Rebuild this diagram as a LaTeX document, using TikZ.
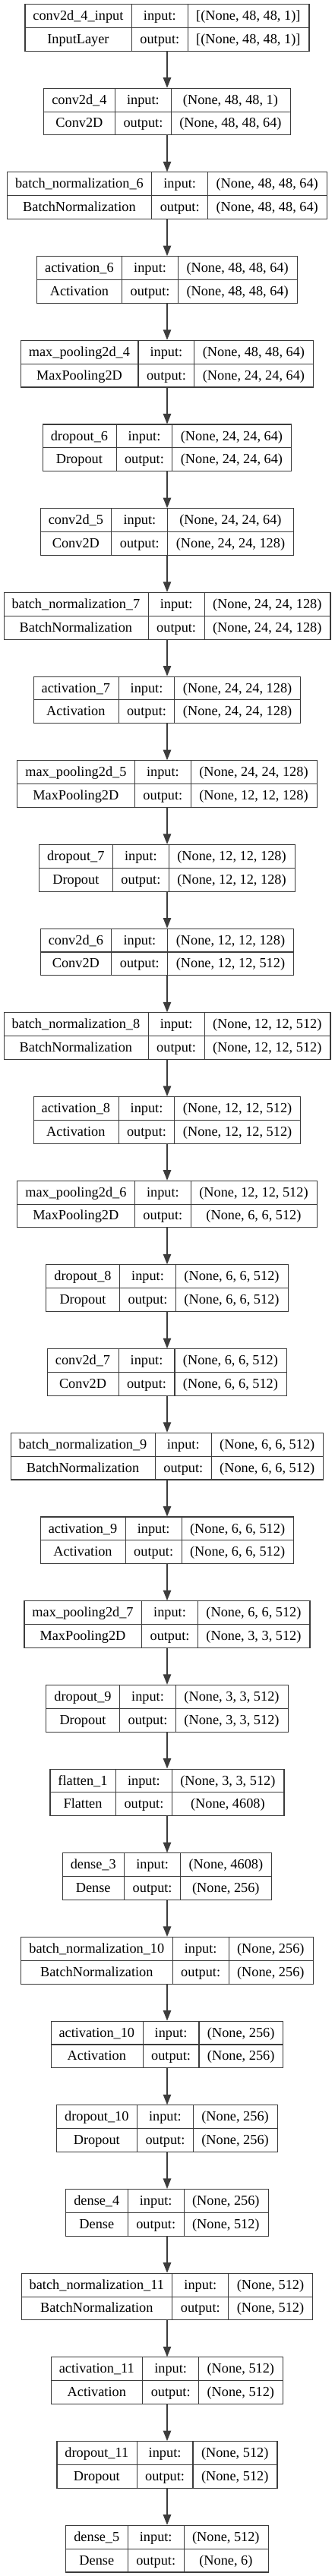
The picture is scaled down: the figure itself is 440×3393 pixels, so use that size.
\documentclass[tikz,border=0pt]{standalone}
\usepackage{fontspec}
\setmainfont{Liberation Serif}
\usetikzlibrary{arrows.meta}
\newlength\kwA \newlength\kwB \newlength\kwC \newlength\ktmp
\newcommand\kfont{\fontsize{18.3pt}{20pt}\selectfont}
\definecolor{kgray}{HTML}{3C3C3C}
\tikzset{
  kframe/.style={draw=kgray, line width=1.1pt, inner sep=0pt, minimum height=61.7pt, rectangle},
  kline/.style={draw=kgray, line width=1.1pt},
  ktext/.style={inner sep=0pt, anchor=base, font=\kfont, text=black},
  karrow/.style={draw=kgray, line width=1.1pt, -{Triangle[length=13.5pt,width=10.5pt]}}
}
\newcommand\kmeasure[4]{%
  \begingroup\normalfont\kfont
  \settowidth\ktmp{#1}\global\kwA=\ktmp
  \settowidth\ktmp{#2}\ifdim\ktmp>\kwA \global\kwA=\ktmp\fi
  \settowidth\ktmp{#3}\global\kwC=\ktmp
  \settowidth\ktmp{#4}\ifdim\ktmp>\kwC \global\kwC=\ktmp\fi
  \settowidth\ktmp{output:}\global\kwB=\ktmp
  \endgroup}
\newcommand\kbox[5]{%
  \pgfinterruptpicture\kmeasure{#2}{#3}{#4}{#5}\endpgfinterruptpicture
  \global\advance\kwA by 22pt \global\advance\kwB by 22pt \global\advance\kwC by 22pt
  \pgfmathsetmacro\kW{\kwA+\kwB+\kwC}%
  \pgfmathsetmacro\kTop{5+#1*110.69}%
  \node[kframe, minimum width=\kW pt, anchor=north] (L#1) at (220,\kTop) {};
  \draw[kline] ([xshift=\kwA]L#1.north west) -- ([xshift=\kwA]L#1.south west);
  \draw[kline] ([xshift=\kwA+\kwB]L#1.north west) -- ([xshift=\kwA+\kwB]L#1.south west);
  \draw[kline] (L#1.west) -- (L#1.east);
  \path ([xshift=0.5*\kwA, yshift=-21.6pt]L#1.north west) node[ktext] (L#1n) {#2};
  \path ([xshift=0.5*\kwA, yshift=-52.3pt]L#1.north west) node[ktext] (L#1c) {#3};
  \path ([xshift=\kwA+0.5*\kwB, yshift=-21.6pt]L#1.north west) node[ktext] (L#1i) {input:};
  \path ([xshift=\kwA+0.5*\kwB, yshift=-52.3pt]L#1.north west) node[ktext] (L#1o) {output:};
  \path ([xshift=\kwA+\kwB+0.5*\kwC, yshift=-21.6pt]L#1.north west) node[ktext] (L#1s) {#4};
  \path ([xshift=\kwA+\kwB+0.5*\kwC, yshift=-52.3pt]L#1.north west) node[ktext] (L#1t) {#5};
  \ifnum#1>0
    \pgfmathtruncatemacro\kPrev{#1-1}%
    \draw[karrow] (L\kPrev.south) -- (L#1.north);
  \fi
}
\begin{document}
\begin{tikzpicture}[x=1pt,y=-1pt]
\useasboundingbox (0,0) rectangle (440,3393);
\fill[white] (0,0) rectangle (440,3393);
\kbox{0}{conv2d\_4\_input}{InputLayer}{[(None, 48, 48, 1)]}{[(None, 48, 48, 1)]}
\kbox{1}{conv2d\_4}{Conv2D}{(None, 48, 48, 1)}{(None, 48, 48, 64)}
\kbox{2}{batch\_normalization\_6}{BatchNormalization}{(None, 48, 48, 64)}{(None, 48, 48, 64)}
\kbox{3}{activation\_6}{Activation}{(None, 48, 48, 64)}{(None, 48, 48, 64)}
\kbox{4}{max\_pooling2d\_4}{MaxPooling2D}{(None, 48, 48, 64)}{(None, 24, 24, 64)}
\kbox{5}{dropout\_6}{Dropout}{(None, 24, 24, 64)}{(None, 24, 24, 64)}
\kbox{6}{conv2d\_5}{Conv2D}{(None, 24, 24, 64)}{(None, 24, 24, 128)}
\kbox{7}{batch\_normalization\_7}{BatchNormalization}{(None, 24, 24, 128)}{(None, 24, 24, 128)}
\kbox{8}{activation\_7}{Activation}{(None, 24, 24, 128)}{(None, 24, 24, 128)}
\kbox{9}{max\_pooling2d\_5}{MaxPooling2D}{(None, 24, 24, 128)}{(None, 12, 12, 128)}
\kbox{10}{dropout\_7}{Dropout}{(None, 12, 12, 128)}{(None, 12, 12, 128)}
\kbox{11}{conv2d\_6}{Conv2D}{(None, 12, 12, 128)}{(None, 12, 12, 512)}
\kbox{12}{batch\_normalization\_8}{BatchNormalization}{(None, 12, 12, 512)}{(None, 12, 12, 512)}
\kbox{13}{activation\_8}{Activation}{(None, 12, 12, 512)}{(None, 12, 12, 512)}
\kbox{14}{max\_pooling2d\_6}{MaxPooling2D}{(None, 12, 12, 512)}{(None, 6, 6, 512)}
\kbox{15}{dropout\_8}{Dropout}{(None, 6, 6, 512)}{(None, 6, 6, 512)}
\kbox{16}{conv2d\_7}{Conv2D}{(None, 6, 6, 512)}{(None, 6, 6, 512)}
\kbox{17}{batch\_normalization\_9}{BatchNormalization}{(None, 6, 6, 512)}{(None, 6, 6, 512)}
\kbox{18}{activation\_9}{Activation}{(None, 6, 6, 512)}{(None, 6, 6, 512)}
\kbox{19}{max\_pooling2d\_7}{MaxPooling2D}{(None, 6, 6, 512)}{(None, 3, 3, 512)}
\kbox{20}{dropout\_9}{Dropout}{(None, 3, 3, 512)}{(None, 3, 3, 512)}
\kbox{21}{flatten\_1}{Flatten}{(None, 3, 3, 512)}{(None, 4608)}
\kbox{22}{dense\_3}{Dense}{(None, 4608)}{(None, 256)}
\kbox{23}{batch\_normalization\_10}{BatchNormalization}{(None, 256)}{(None, 256)}
\kbox{24}{activation\_10}{Activation}{(None, 256)}{(None, 256)}
\kbox{25}{dropout\_10}{Dropout}{(None, 256)}{(None, 256)}
\kbox{26}{dense\_4}{Dense}{(None, 256)}{(None, 512)}
\kbox{27}{batch\_normalization\_11}{BatchNormalization}{(None, 512)}{(None, 512)}
\kbox{28}{activation\_11}{Activation}{(None, 512)}{(None, 512)}
\kbox{29}{dropout\_11}{Dropout}{(None, 512)}{(None, 512)}
\kbox{30}{dense\_5}{Dense}{(None, 512)}{(None, 6)}
\end{tikzpicture}
\end{document}
